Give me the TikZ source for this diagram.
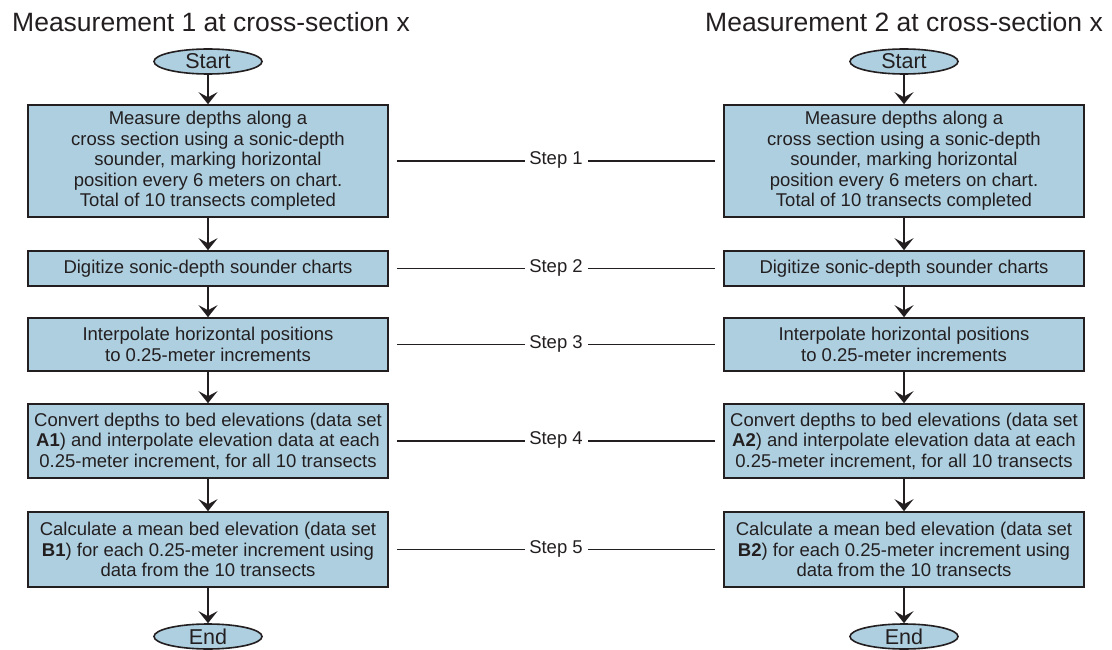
\documentclass[tikz,border=0pt]{standalone}
\usepackage{fontspec}
\setmainfont{Liberation Sans}
\usetikzlibrary{arrows.meta,shapes.geometric,calc}
\definecolor{boxblue}{RGB}{174,207,224}
\definecolor{ink}{RGB}{35,31,32}
\begin{document}
\begin{tikzpicture}[x=1pt,y=-1pt,
  every node/.style={text=ink},
  proc/.style={draw=ink, line width=1.6pt, fill=boxblue, minimum width=360pt, inner sep=0pt, align=center, font=\fontsize{18.5}{20.5}\selectfont},
  term/.style={ellipse, draw=ink, line width=1.6pt, fill=boxblue, minimum width=108pt, minimum height=25pt, inner sep=0pt, font=\fontsize{21.5}{22}\selectfont},
  flow/.style={draw=ink, line width=2pt, -{Stealth[length=12pt,width=19pt,inset=5pt]}},
  steplab/.style={font=\fontsize{18.5}{20}\selectfont, inner sep=0pt, outer sep=0pt, text height=0.72em, text depth=0pt},
  stepline/.style={draw=ink, line width=1.6pt, shorten <=8pt},
  ttl/.style={font=\fontsize{26.5}{28}\selectfont, anchor=base west, inner sep=0pt}]
\useasboundingbox (0,0) rectangle (1112,650);

% titles
\node[ttl] (t1) at (12,32) {Measurement 1 at cross-section x};
\node[ttl] (t2) at (705,32) {Measurement 2 at cross-section x};

% left column
\node[term] (sL) at (208,61.5) {Start};
\node[proc, minimum height=112pt] (b1L) at (208,161) {Measure depths along a\\cross section using a sonic-depth\\sounder, marking horizontal\\position every 6 meters on chart.\\Total of 10 transects completed};
\node[proc, minimum height=35pt] (b2L) at (208,268.5) {Digitize sonic-depth sounder charts};
\node[proc, minimum height=53pt] (b3L) at (208,344.5) {Interpolate horizontal positions\\to 0.25-meter increments};
\node[proc, minimum height=74pt] (b4L) at (208,441) {Convert depths to bed elevations (data set\\\textbf{A1}) and interpolate elevation data at each\\0.25-meter increment, for all 10 transects};
\node[proc, minimum height=75pt] (b5L) at (208,549.5) {Calculate a mean bed elevation (data set\\\textbf{B1}) for each 0.25-meter increment using\\data from the 10 transects};
\node[term] (eL) at (208,636.5) {End};

% right column
\node[term] (sR) at (904,61.5) {Start};
\node[proc, minimum height=112pt] (b1R) at (904,161) {Measure depths along a\\cross section using a sonic-depth\\sounder, marking horizontal\\position every 6 meters on chart.\\Total of 10 transects completed};
\node[proc, minimum height=35pt] (b2R) at (904,268.5) {Digitize sonic-depth sounder charts};
\node[proc, minimum height=53pt] (b3R) at (904,344.5) {Interpolate horizontal positions\\to 0.25-meter increments};
\node[proc, minimum height=74pt] (b4R) at (904,441) {Convert depths to bed elevations (data set\\\textbf{A2}) and interpolate elevation data at each\\0.25-meter increment, for all 10 transects};
\node[proc, minimum height=75pt] (b5R) at (904,549.5) {Calculate a mean bed elevation (data set\\\textbf{B2}) for each 0.25-meter increment using\\data from the 10 transects};
\node[term] (eR) at (904,636.5) {End};

% flow arrows
\foreach \c in {L,R}{
  \draw[flow] (s\c) -- (b1\c);
  \draw[flow] (b1\c) -- (b2\c);
  \draw[flow] (b2\c) -- (b3\c);
  \draw[flow] (b3\c) -- (b4\c);
  \draw[flow] (b4\c) -- (b5\c);
  \draw[flow] (b5\c) -- (e\c);
}

% step labels and lines
\foreach \i in {1,...,5}{
  \node[steplab] (st\i) at ($(b\i L.east)!0.5!(b\i R.west)$) {Step \i};
  \coordinate (sl\i) at ([xshift=-31.5pt]st\i.center);
  \coordinate (sr\i) at ([xshift=31.5pt]st\i.center);
  \draw[stepline] (b\i L.east) -- (sl\i);
  \draw[stepline] (b\i R.west) -- (sr\i);
}
\end{tikzpicture}
\end{document}
